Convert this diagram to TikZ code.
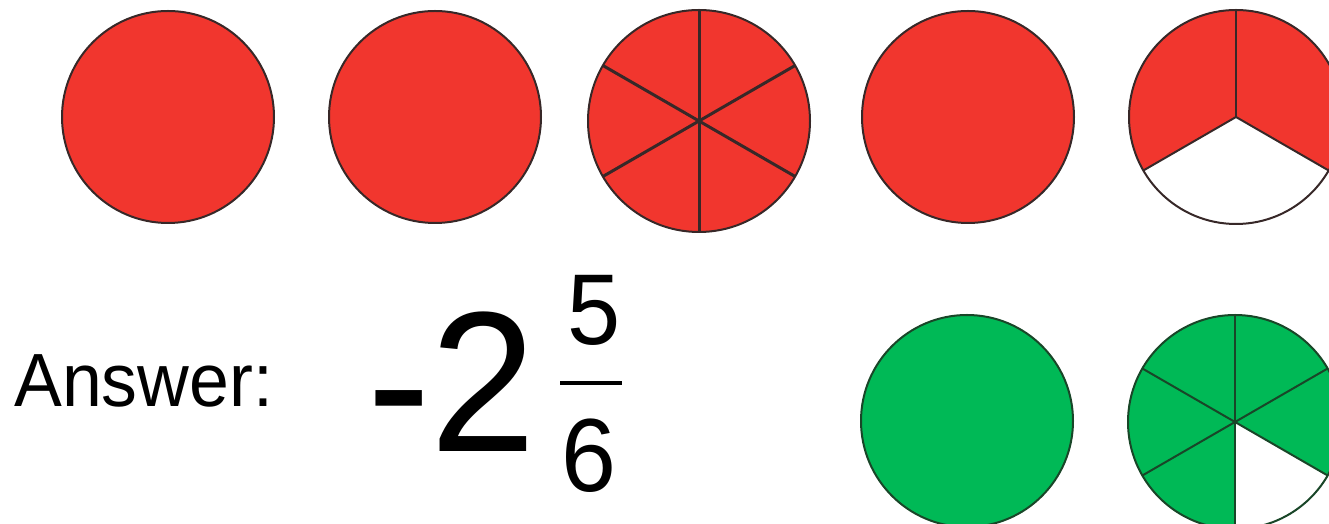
\documentclass[tikz,border=0pt]{standalone}
\usepackage{fontspec}
\setmainfont{Liberation Sans}
\definecolor{pieRed}{RGB}{241,54,46}
\definecolor{pieGreen}{RGB}{0,185,86}
\definecolor{rimRed}{RGB}{55,40,40}
\definecolor{rimGreen}{RGB}{25,70,40}

\begin{document}
\begin{tikzpicture}[
    x=0.5pt, y=0.5pt,
    redpie/.style={draw=rimRed, line width=1pt, fill=pieRed},
    greenpie/.style={draw=rimGreen, line width=1pt, fill=pieGreen},
    cutline/.style={draw=rimRed, line width=1.5pt},
    txt/.style={inner sep=0pt, xscale=0.95},
]
\useasboundingbox (0,0) rectangle (1329,524);
\clip (0,0) rectangle (1329,524);

%% Whole red circles
\foreach \name/\cx in {c1/168, c2/435, c4/968}
  \coordinate (\name) at (\cx,407);
\foreach \name in {c1, c2, c4}
  \draw[redpie] (\name) circle (106);

%% Red circle cut in sixths
\coordinate (c3) at (699,403);
\draw[redpie] (c3) circle (111);
\foreach \a in {30,90,...,330}
  \draw[cutline] (c3) -- ++(\a:111);

%% Red circle, two thirds shaded
\coordinate (c5) at (1236,407);
\fill[pieRed] (c5) -- ++(-30:107) arc[start angle=-30, end angle=210, radius=107] -- cycle;
\foreach \a in {90,210,330}
  \draw[draw=rimRed, line width=1pt] (c5) -- ++(\a:107);
\draw[draw=rimRed, line width=1pt] (c5) circle (107);

%% Green circles
\coordinate (g1) at (967,103);
\draw[greenpie] (g1) circle (106);

\coordinate (g2) at (1235,102);
\fill[pieGreen] (g2) -- ++(-30:107) arc[start angle=-30, end angle=270, radius=107] -- cycle;
\foreach \a in {30,90,...,330}
  \draw[draw=rimGreen, line width=1pt] (g2) -- ++(\a:107);
\draw[draw=rimGreen, line width=1pt] (g2) circle (107);

%% Answer
\node[txt, anchor=base west, font=\fontsize{37.7}{45}\selectfont] (ans) at (14,117) {Answer:};
\node[txt, anchor=base west, font=\fontsize{100}{110}\selectfont] (whole) at (367,72) {-2};
\node[txt, anchor=base, font=\fontsize{50.3}{60}\selectfont] (num) at (594,179) {5};
\node[txt, anchor=base, font=\fontsize{52}{60}\selectfont] (den) at (589,32) {6};
\coordinate (barL) at (560,141);
\coordinate (barR) at (622,141);
\draw[line width=2pt] (barL) -- (barR);

\end{tikzpicture}
\end{document}
